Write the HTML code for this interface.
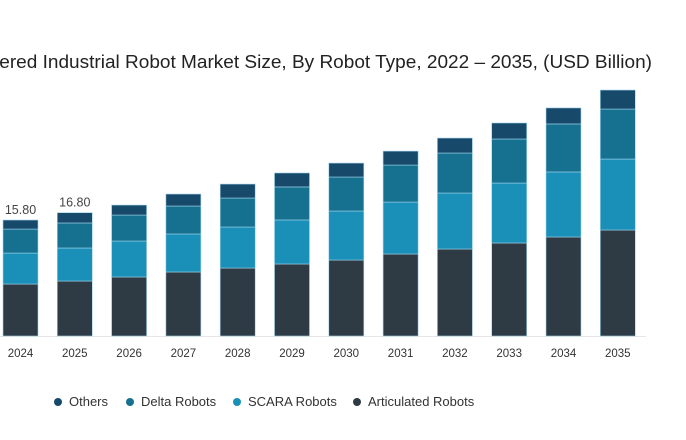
<!DOCTYPE html>
<html><head><meta charset="utf-8"><style>
html,body{margin:0;padding:0;background:#fff;width:686px;height:440px;overflow:hidden}
svg{display:block;font-family:"Liberation Sans",sans-serif}
</style></head><body>
<svg id="chart" width="686" height="440">
<text x="-62" y="68" textLength="714" lengthAdjust="spacingAndGlyphs" font-size="18" fill="#222">AI-Powered Industrial Robot Market Size, By Robot Type, 2022 – 2035, (USD Billion)</text>
<line x1="0" y1="336.5" x2="646" y2="336.5" stroke="#e6e6e6"/>
<g id="bars"></g><g id="xlabels"></g><g id="legend"></g>
</svg>
<script>
const categories=["2024","2025","2026","2027","2028","2029","2030","2031","2032","2033","2034","2035"];
const articulated=[7.08,7.49,8.04,8.72,9.26,9.81,10.35,11.17,11.85,12.67,13.49,14.44];
const scara=[4.22,4.5,4.9,5.18,5.59,6.0,6.68,7.08,7.63,8.17,8.86,9.67];
const delta=[3.27,3.41,3.54,3.81,3.95,4.5,4.63,5.04,5.45,6.0,6.54,6.81];
const others=[1.23,1.4,1.36,1.63,1.9,1.9,1.9,1.9,2.04,2.18,2.18,2.59];
const totalLabels=["15.80","16.80","","","","","","","","","",""];
const seriesNames=["Others","Delta Robots","SCARA Robots","Articulated Robots"];
const NS="http://www.w3.org/2000/svg";
const base=336, ppu=7.34, x0=20.5, step=54.3, bw=35;
const yS=v=>base-v*ppu, xS=i=>x0+i*step;
const series=[articulated,scara,delta,others];
const colors=["#2e3a44","#1a8fb8","#16708f","#17496b"];
const names=["articulated","scara","delta","others"];
const gb=document.getElementById('bars'),gx=document.getElementById('xlabels'),gl=document.getElementById('legend');
categories.forEach((c,i)=>{
  let cum=0;
  series.forEach((s,k)=>{
    const r=document.createElementNS(NS,'rect');
    const y1=yS(cum+s[i]),y0=yS(cum);
    r.setAttribute('x',xS(i)-bw/2);r.setAttribute('y',y1);
    r.setAttribute('width',bw);r.setAttribute('height',y0-y1);
    r.setAttribute('fill',colors[k]);r.setAttribute('stroke','#9fd3ea');r.setAttribute('stroke-width','0.6');
    
    
    gb.appendChild(r);cum+=s[i];
  });
  if(totalLabels[i]){const t=document.createElementNS(NS,'text');
    t.setAttribute('x',xS(i));t.setAttribute('y',yS(cum)-6);t.setAttribute('text-anchor','middle');
    t.setAttribute('font-size','12.5');t.setAttribute('fill','#444');t.textContent=totalLabels[i];
    
    
    gb.appendChild(t);}
  const t=document.createElementNS(NS,'text');
  t.setAttribute('x',xS(i));t.setAttribute('y',357);t.setAttribute('text-anchor','middle');
  t.setAttribute('font-size','11.5');t.setAttribute('fill','#333');t.textContent=c;
  
  
  gx.appendChild(t);
});
const lx=[58,130,237,357],lc=["#17496b","#16708f","#1a8fb8","#2e3a44"];
seriesNames.forEach((n,i)=>{
  const g=document.createElementNS(NS,'g');
  
  
  const c=document.createElementNS(NS,'circle');c.setAttribute('cx',lx[i]);c.setAttribute('cy',402);c.setAttribute('r',4);c.setAttribute('fill',lc[i]);
  const t=document.createElementNS(NS,'text');t.setAttribute('x',lx[i]+11);t.setAttribute('y',406);t.setAttribute('font-size','13');t.setAttribute('fill','#333');t.textContent=n;
  g.appendChild(c);g.appendChild(t);gl.appendChild(g);
});
</script>
</body></html>
